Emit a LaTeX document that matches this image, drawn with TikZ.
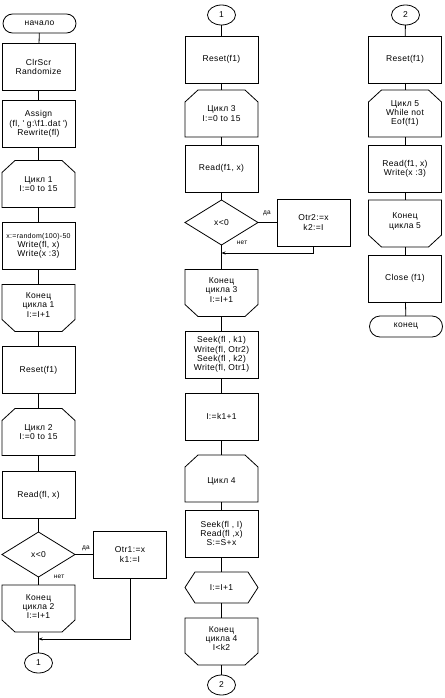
\documentclass[tikz,border=0pt]{standalone}
\usepackage{fontspec}
\newfontfamily\flowfont[LetterSpace=4]{Liberation Sans}
\usetikzlibrary{shapes.geometric,arrows.meta}
\newcommand\mainfnt{\flowfont\fontsize{8.5}{9.3}\selectfont}
\newcommand\smallfnt{\flowfont\fontsize{6.5}{7}\selectfont}
\newcommand\tinyfnt{\flowfont\fontsize{7}{9.3}\selectfont}
\newcommand\drawloopbeg[1]{\draw ([yshift=-12pt]#1.north west) -- ([xshift=13pt]#1.north west) -- ([xshift=-13pt]#1.north east) -- ([yshift=-12pt]#1.north east) -- (#1.south east) -- (#1.south west) -- cycle;}
\newcommand\drawloopend[1]{\draw ([yshift=12pt]#1.south west) -- ([xshift=13pt]#1.south west) -- ([xshift=-13pt]#1.south east) -- ([yshift=12pt]#1.south east) -- (#1.north east) -- (#1.north west) -- cycle;}
\newcommand\drawhexa[1]{\draw (#1.west) -- ([xshift=10pt]#1.north west) -- ([xshift=-10pt]#1.north east) -- (#1.east) -- ([xshift=-10pt]#1.south east) -- ([xshift=10pt]#1.south west) -- cycle;}
\begin{document}
\begin{tikzpicture}[x=1pt,y=-1pt,line width=0.8pt,
 every node/.style={outer sep=0pt,font=\mainfnt},
 box/.style={draw,rectangle,minimum width=73pt,minimum height=47pt,inner sep=1pt,align=center},
 shell/.style={rectangle,minimum width=73pt,minimum height=47pt,inner sep=0pt},
 txt/.style={align=center,inner sep=0pt},
 term/.style={draw,rectangle,rounded corners=9.5pt,minimum width=73pt,minimum height=19pt,inner sep=0pt},
 conn/.style={draw,ellipse,minimum width=28pt,minimum height=20pt,inner sep=0pt},
 dec/.style={draw,diamond,minimum width=73pt,minimum height=45pt,inner sep=0pt},
 lbl/.style={font=\smallfnt,inner sep=0pt},
 joinarrow/.style={-{Stealth[length=4pt,width=3pt]}}]
\useasboundingbox (0,0) rectangle (444,698);
\fill[white] (0,0) rectangle (444,698);
% ---------------- column 1
\node[term] (s) at (39.5,23.5) {начало};
\node[box] (b1) at (38.5,67) {ClrScr\\Randomize};
\node[box] (b2) at (38.5,124) {Assign\\(fl, \textquotesingle\ g:\textbackslash f1.dat \textquotesingle)\\Rewrite(fl)};
\node[shell] (l1) at (38.5,184) {};
\node[txt] (l1t) at (l1) {Цикл 1\\I:=0 to 15};
\drawloopbeg{l1}
\node[box] (b3) at (38.5,246) {{\tinyfnt x:=random(100)-50}\\Write(fl, x)\\Write(x :3)};
\node[shell] (e1) at (38.5,308) {};
\node[txt] (e1t) at ([yshift=3pt]e1.center) {Конец\\цикла 1\\I:=I+1};
\drawloopend{e1}
\node[box] (b4) at (38.5,370) {Reset(f1)};
\node[shell] (l2) at (38.5,432) {};
\node[txt] (l2t) at (l2) {Цикл 2\\I:=0 to 15};
\drawloopbeg{l2}
\node[box] (b5) at (38.5,495) {Read(fl, x)};
\node[dec] (d1) at (38.5,554.5) {x<0};
\node[box] (o1) at (130,554.5) {Otr1:=x\\k1:=I};
\node[shell] (e2) at (38.5,608.5) {};
\node[txt] (e2t) at ([yshift=2pt]e2.center) {Конец\\цикла 2\\I:=I+1};
\drawloopend{e2}
\coordinate (j1) at (38.5,639);
\node[conn] (c1) at (38.5,663) {1};
\node[lbl] (da1) at (86,548) {да};
\node[lbl] (net1) at (59,577) {нет};
\draw (s) -- (b1);
\draw (b1) -- (b2);
\draw (b2) -- (l1);
\draw (l1) -- (b3);
\draw (b3) -- (e1);
\draw (e1) -- (b4);
\draw (b4) -- (l2);
\draw (l2) -- (b5);
\draw (b5) -- (d1);
\draw (d1) -- (e2);
\draw (e2) -- (c1);
\draw (d1.east) -- (o1.west);
\draw[joinarrow] (o1.south) |- (j1);
% ---------------- column 2
\node[conn] (c1b) at (221.5,15) {1};
\node[box] (r2) at (221.5,59.5) {Reset(f1)};
\node[shell] (l3) at (221.5,113.5) {};
\node[txt] (l3t) at (l3) {Цикл 3\\I:=0 to 15};
\drawloopbeg{l3}
\node[box] (rd2) at (221.5,168.5) {Read(f1, x)};
\node[dec] (d2) at (221.5,222.5) {x<0};
\node[box] (o2) at (313.5,222.5) {Otr2:=x\\k2:=I};
\coordinate (j2) at (221.5,253);
\node[lbl] (da2) at (267,213) {да};
\node[lbl] (net2) at (242,243) {нет};
\node[shell] (e3) at (221.5,293) {};
\node[txt] (e3t) at ([yshift=3pt]e3.center) {Конец\\цикла 3\\I:=I+1};
\drawloopend{e3}
\node[box] (sk) at (221.5,354.5) {Seek(fl , k1)\\Write(fl, Otr2)\\Seek(fl , k2)\\Write(fl, Otr1)};
\node[box] (ik) at (221.5,416.5) {I:=k1+1};
\node[shell] (l4) at (221.5,478.5) {};
\node[txt] (l4t) at ([yshift=-3pt]l4.center) {Цикл 4};
\drawloopbeg{l4}
\node[box] (sk2) at (221.5,533.5) {Seek(fl , I)\\Read(fl ,x)\\S:=S+x};
\node[shell,minimum height=31pt] (hx) at (221.5,587.5) {};
\node[txt] (hxt) at (hx) {I:=I+1};
\drawhexa{hx}
\node[shell] (e4) at (221.5,641.5) {};
\node[txt] (e4t) at ([yshift=3pt]e4.center) {Конец\\цикла 4\\I<k2};
\drawloopend{e4}
\node[conn] (c2) at (221.5,685) {2};
\draw (c1b) -- (r2);
\draw (r2) -- (l3);
\draw (l3) -- (rd2);
\draw (rd2) -- (d2);
\draw (d2) -- (e3);
\draw (e3) -- (sk);
\draw (sk) -- (ik);
\draw (ik) -- (l4);
\draw (l4) -- (sk2);
\draw (sk2) -- (hx);
\draw (hx) -- (e4);
\draw (e4) -- (c2);
\draw (d2.east) -- (o2.west);
\draw[joinarrow] (o2.south) |- (j2);
% ---------------- column 3
\node[conn] (c2b) at (405.5,15) {2};
\node[box] (r3) at (405,59.5) {Reset(f1)};
\node[shell] (l5) at (405,113.5) {};
\node[txt] (l5t) at (l5) {Цикл 5\\While not\\Eof(f1)};
\drawloopbeg{l5}
\node[box] (rw) at (405,168.5) {Read(f1, x)\\Write(x :3)};
\node[shell] (e5) at (405,223.5) {};
\node[txt] (e5t) at ([yshift=2pt]e5.center) {Конец\\цикла 5};
\drawloopend{e5}
\node[box] (cl) at (405,278.5) {Close (f1)};
\node[term,minimum height=21pt,rounded corners=10.5pt] (fin) at (406,326.5) {конец};
\draw (c2b) -- (r3);
\draw (r3) -- (l5);
\draw (l5) -- (rw);
\draw (rw) -- (e5);
\draw (e5) -- (cl);
\draw (cl) -- (fin);
\end{tikzpicture}
\end{document}
